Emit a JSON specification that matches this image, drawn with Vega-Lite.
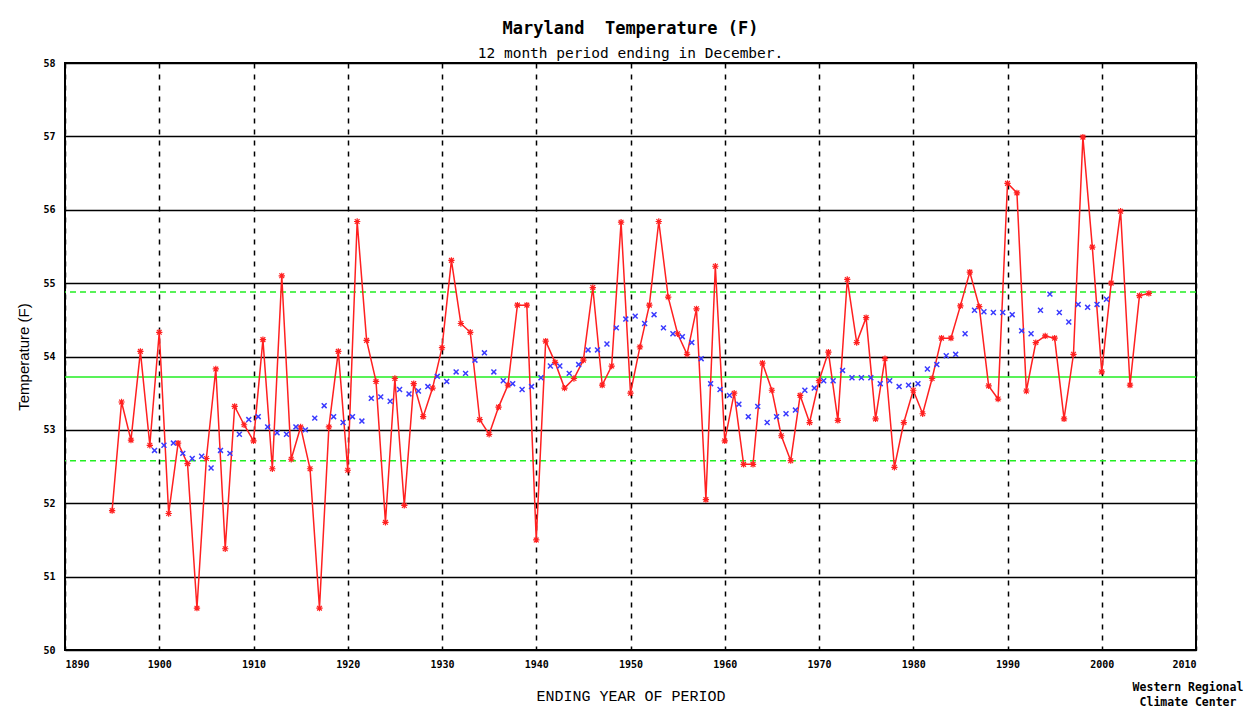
{
  "$schema": "https://vega.github.io/schema/vega-lite/v6.json",
  "autosize": {"type": "none"},
  "width": 1131,
  "height": 587,
  "padding": {"left": 65, "top": 63, "right": 56, "bottom": 58},
  "background": "#ffffff",
  "title": {
    "text": "Maryland\u00a0 Temperature (F)",
    "subtitle": "12 month period ending in December.",
    "anchor": "middle",
    "font": "DejaVu Sans Mono",
    "fontSize": 17,
    "fontWeight": "bold",
    "color": "#000000",
    "subtitleFont": "DejaVu Sans Mono",
    "subtitleFontSize": 14.5,
    "subtitleColor": "#000000",
    "subtitlePadding": 9,
    "offset": -3
  },
  "config": {
    "view": {"stroke": "#000000", "strokeWidth": 2},
    "axis": {
      "domain": false,
      "ticks": false,
      "labelFont": "DejaVu Sans Mono",
      "labelFontSize": 10,
      "labelFontWeight": "bold",
      "labelColor": "#000000",
      "gridColor": "#000000",
      "gridOpacity": 1
    }
  },
  "datasets": {
    "annual": [
      {"year": 1895, "temp": 51.90}, {"year": 1896, "temp": 53.38}, {"year": 1897, "temp": 52.86}, {"year": 1898, "temp": 54.07}, {"year": 1899, "temp": 52.79},
      {"year": 1900, "temp": 54.33}, {"year": 1901, "temp": 51.86}, {"year": 1902, "temp": 52.82}, {"year": 1903, "temp": 52.54}, {"year": 1904, "temp": 50.57},
      {"year": 1905, "temp": 52.61}, {"year": 1906, "temp": 53.83}, {"year": 1907, "temp": 51.38}, {"year": 1908, "temp": 53.32}, {"year": 1909, "temp": 53.07},
      {"year": 1910, "temp": 52.85}, {"year": 1911, "temp": 54.23}, {"year": 1912, "temp": 52.47}, {"year": 1913, "temp": 55.10}, {"year": 1914, "temp": 52.60},
      {"year": 1915, "temp": 53.04}, {"year": 1916, "temp": 52.47}, {"year": 1917, "temp": 50.57}, {"year": 1918, "temp": 53.04}, {"year": 1919, "temp": 54.07},
      {"year": 1920, "temp": 52.45}, {"year": 1921, "temp": 55.84}, {"year": 1922, "temp": 54.22}, {"year": 1923, "temp": 53.66}, {"year": 1924, "temp": 51.74},
      {"year": 1925, "temp": 53.70}, {"year": 1926, "temp": 51.97}, {"year": 1927, "temp": 53.63}, {"year": 1928, "temp": 53.18}, {"year": 1929, "temp": 53.57},
      {"year": 1930, "temp": 54.12}, {"year": 1931, "temp": 55.31}, {"year": 1932, "temp": 54.45}, {"year": 1933, "temp": 54.33}, {"year": 1934, "temp": 53.14},
      {"year": 1935, "temp": 52.94}, {"year": 1936, "temp": 53.31}, {"year": 1937, "temp": 53.61}, {"year": 1938, "temp": 54.70}, {"year": 1939, "temp": 54.70},
      {"year": 1940, "temp": 51.50}, {"year": 1941, "temp": 54.21}, {"year": 1942, "temp": 53.92}, {"year": 1943, "temp": 53.57}, {"year": 1944, "temp": 53.70},
      {"year": 1945, "temp": 53.95}, {"year": 1946, "temp": 54.94}, {"year": 1947, "temp": 53.61}, {"year": 1948, "temp": 53.87}, {"year": 1949, "temp": 55.83},
      {"year": 1950, "temp": 53.50}, {"year": 1951, "temp": 54.13}, {"year": 1952, "temp": 54.70}, {"year": 1953, "temp": 55.84}, {"year": 1954, "temp": 54.81},
      {"year": 1955, "temp": 54.31}, {"year": 1956, "temp": 54.03}, {"year": 1957, "temp": 54.65}, {"year": 1958, "temp": 52.05}, {"year": 1959, "temp": 55.23},
      {"year": 1960, "temp": 52.85}, {"year": 1961, "temp": 53.50}, {"year": 1962, "temp": 52.53}, {"year": 1963, "temp": 52.53}, {"year": 1964, "temp": 53.91},
      {"year": 1965, "temp": 53.54}, {"year": 1966, "temp": 52.92}, {"year": 1967, "temp": 52.58}, {"year": 1968, "temp": 53.47}, {"year": 1969, "temp": 53.10},
      {"year": 1970, "temp": 53.67}, {"year": 1971, "temp": 54.06}, {"year": 1972, "temp": 53.13}, {"year": 1973, "temp": 55.05}, {"year": 1974, "temp": 54.19},
      {"year": 1975, "temp": 54.53}, {"year": 1976, "temp": 53.15}, {"year": 1977, "temp": 53.97}, {"year": 1978, "temp": 52.49}, {"year": 1979, "temp": 53.10},
      {"year": 1980, "temp": 53.54}, {"year": 1981, "temp": 53.22}, {"year": 1982, "temp": 53.70}, {"year": 1983, "temp": 54.25}, {"year": 1984, "temp": 54.25},
      {"year": 1985, "temp": 54.69}, {"year": 1986, "temp": 55.15}, {"year": 1987, "temp": 54.68}, {"year": 1988, "temp": 53.60}, {"year": 1989, "temp": 53.42},
      {"year": 1990, "temp": 56.36}, {"year": 1991, "temp": 56.23}, {"year": 1992, "temp": 53.53}, {"year": 1993, "temp": 54.19}, {"year": 1994, "temp": 54.28},
      {"year": 1995, "temp": 54.25}, {"year": 1996, "temp": 53.15}, {"year": 1997, "temp": 54.03}, {"year": 1998, "temp": 56.99}, {"year": 1999, "temp": 55.49},
      {"year": 2000, "temp": 53.79}, {"year": 2001, "temp": 55.00}, {"year": 2002, "temp": 55.98}, {"year": 2003, "temp": 53.61}, {"year": 2004, "temp": 54.83},
      {"year": 2005, "temp": 54.86}
    ],
    "mean10": [
      {"year": 1899.5, "temp": 52.72}, {"year": 1900.5, "temp": 52.79}, {"year": 1901.5, "temp": 52.82}, {"year": 1902.5, "temp": 52.68}, {"year": 1903.5, "temp": 52.61},
      {"year": 1904.5, "temp": 52.64}, {"year": 1905.5, "temp": 52.48}, {"year": 1906.5, "temp": 52.72}, {"year": 1907.5, "temp": 52.68}, {"year": 1908.5, "temp": 52.94},
      {"year": 1909.5, "temp": 53.14}, {"year": 1910.5, "temp": 53.18}, {"year": 1911.5, "temp": 53.04}, {"year": 1912.5, "temp": 52.96}, {"year": 1913.5, "temp": 52.94},
      {"year": 1914.5, "temp": 53.04}, {"year": 1915.5, "temp": 53.00}, {"year": 1916.5, "temp": 53.16}, {"year": 1917.5, "temp": 53.33}, {"year": 1918.5, "temp": 53.18},
      {"year": 1919.5, "temp": 53.10}, {"year": 1920.5, "temp": 53.18}, {"year": 1921.5, "temp": 53.12}, {"year": 1922.5, "temp": 53.43}, {"year": 1923.5, "temp": 53.45},
      {"year": 1924.5, "temp": 53.39}, {"year": 1925.5, "temp": 53.55}, {"year": 1926.5, "temp": 53.49}, {"year": 1927.5, "temp": 53.53}, {"year": 1928.5, "temp": 53.59},
      {"year": 1929.5, "temp": 53.73}, {"year": 1930.5, "temp": 53.66}, {"year": 1931.5, "temp": 53.79}, {"year": 1932.5, "temp": 53.77}, {"year": 1933.5, "temp": 53.95},
      {"year": 1934.5, "temp": 54.05}, {"year": 1935.5, "temp": 53.79}, {"year": 1936.5, "temp": 53.67}, {"year": 1937.5, "temp": 53.63}, {"year": 1938.5, "temp": 53.55},
      {"year": 1939.5, "temp": 53.59}, {"year": 1940.5, "temp": 53.71}, {"year": 1941.5, "temp": 53.87}, {"year": 1942.5, "temp": 53.87}, {"year": 1943.5, "temp": 53.77},
      {"year": 1944.5, "temp": 53.89}, {"year": 1945.5, "temp": 54.09}, {"year": 1946.5, "temp": 54.09}, {"year": 1947.5, "temp": 54.17}, {"year": 1948.5, "temp": 54.39},
      {"year": 1949.5, "temp": 54.51}, {"year": 1950.5, "temp": 54.55}, {"year": 1951.5, "temp": 54.45}, {"year": 1952.5, "temp": 54.57}, {"year": 1953.5, "temp": 54.39},
      {"year": 1954.5, "temp": 54.31}, {"year": 1955.5, "temp": 54.27}, {"year": 1956.5, "temp": 54.19}, {"year": 1957.5, "temp": 53.97}, {"year": 1958.5, "temp": 53.63},
      {"year": 1959.5, "temp": 53.55}, {"year": 1960.5, "temp": 53.47}, {"year": 1961.5, "temp": 53.35}, {"year": 1962.5, "temp": 53.18}, {"year": 1963.5, "temp": 53.32},
      {"year": 1964.5, "temp": 53.10}, {"year": 1965.5, "temp": 53.18}, {"year": 1966.5, "temp": 53.22}, {"year": 1967.5, "temp": 53.27}, {"year": 1968.5, "temp": 53.54},
      {"year": 1969.5, "temp": 53.57}, {"year": 1970.5, "temp": 53.67}, {"year": 1971.5, "temp": 53.67}, {"year": 1972.5, "temp": 53.81}, {"year": 1973.5, "temp": 53.71},
      {"year": 1974.5, "temp": 53.71}, {"year": 1975.5, "temp": 53.71}, {"year": 1976.5, "temp": 53.63}, {"year": 1977.5, "temp": 53.67}, {"year": 1978.5, "temp": 53.59},
      {"year": 1979.5, "temp": 53.61}, {"year": 1980.5, "temp": 53.63}, {"year": 1981.5, "temp": 53.83}, {"year": 1982.5, "temp": 53.89}, {"year": 1983.5, "temp": 54.01},
      {"year": 1984.5, "temp": 54.03}, {"year": 1985.5, "temp": 54.31}, {"year": 1986.5, "temp": 54.63}, {"year": 1987.5, "temp": 54.61}, {"year": 1988.5, "temp": 54.60},
      {"year": 1989.5, "temp": 54.60}, {"year": 1990.5, "temp": 54.57}, {"year": 1991.5, "temp": 54.35}, {"year": 1992.5, "temp": 54.31}, {"year": 1993.5, "temp": 54.63},
      {"year": 1994.5, "temp": 54.85}, {"year": 1995.5, "temp": 54.60}, {"year": 1996.5, "temp": 54.47}, {"year": 1997.5, "temp": 54.71}, {"year": 1998.5, "temp": 54.67},
      {"year": 1999.5, "temp": 54.71}, {"year": 2000.5, "temp": 54.78}
    ],
    "stats": [
      {"stat": "mean", "temp": 53.72},
      {"stat": "mean + 1 sd", "temp": 54.88},
      {"stat": "mean - 1 sd", "temp": 52.58}
    ],
    "credit": [
      {"year": 2010, "temp": 50, "label": "Western Regional Climate Center"}
    ]
  },
  "layer": [
    {
      "data": {"name": "stats"},
      "transform": [{"filter": "datum.stat == 'mean'"}],
      "mark": {"type": "rule", "color": "#22ee22", "strokeWidth": 1.5},
      "encoding": {
        "y": {"field": "temp", "type": "quantitative", "scale": {"domain": [50, 58], "nice": false, "zero": false}}
      }
    },
    {
      "data": {"name": "stats"},
      "transform": [{"filter": "datum.stat != 'mean'"}],
      "mark": {"type": "rule", "color": "#22ee22", "strokeWidth": 1.5, "strokeDash": [6, 4]},
      "encoding": {
        "y": {"field": "temp", "type": "quantitative"}
      }
    },
    {
      "data": {"name": "annual"},
      "mark": {"type": "line", "color": "#ff2020", "strokeWidth": 1.5},
      "encoding": {
        "x": {
          "field": "year",
          "type": "quantitative",
          "scale": {"domain": [1890, 2010], "nice": false, "zero": false},
          "axis": {
            "values": [1890, 1900, 1910, 1920, 1930, 1940, 1950, 1960, 1970, 1980, 1990, 2000, 2010],
            "format": "d",
            "title": "ENDING YEAR OF PERIOD",
            "titleFont": "Liberation Mono",
            "titleFontSize": 15,
            "titleFontWeight": "normal",
            "titleColor": "#000000",
            "titlePadding": 19,
            "labelPadding": 9,
            "grid": true,
            "gridDash": [5, 6],
            "gridWidth": 1.5
          }
        },
        "y": {
          "field": "temp",
          "type": "quantitative",
          "axis": {
            "values": [50, 51, 52, 53, 54, 55, 56, 57, 58],
            "format": "d",
            "title": "Temperature (F)",
            "titleFont": "Liberation Sans",
            "titleFontSize": 15,
            "titleFontWeight": "normal",
            "titleColor": "#000000",
            "titlePadding": 11,
            "labelPadding": 10,
            "grid": true,
            "gridWidth": 1.5
          }
        }
      }
    },
    {
      "data": {"name": "annual"},
      "mark": {
        "type": "point",
        "shape": "M-1,0L1,0M0,-1L0,1M-0.75,-0.75L0.75,0.75M-0.75,0.75L0.75,-0.75",
        "filled": false,
        "stroke": "#ff2020",
        "strokeWidth": 1.2,
        "size": 40,
        "opacity": 1
      },
      "encoding": {
        "x": {"field": "year", "type": "quantitative"},
        "y": {"field": "temp", "type": "quantitative"}
      }
    },
    {
      "data": {"name": "mean10"},
      "mark": {
        "type": "point",
        "shape": "M-1,-1L1,1M-1,1L1,-1",
        "filled": false,
        "stroke": "#3a3aff",
        "strokeWidth": 1.5,
        "size": 24,
        "opacity": 1
      },
      "encoding": {
        "x": {"field": "year", "type": "quantitative"},
        "y": {"field": "temp", "type": "quantitative"}
      }
    },
    {
      "data": {"name": "credit"},
      "mark": {
        "type": "text",
        "font": "DejaVu Sans Mono",
        "fontSize": 11.5,
        "fontWeight": "bold",
        "align": "center",
        "baseline": "top",
        "lineHeight": 15,
        "dx": -8,
        "dy": 32,
        "color": "#000000",
        "clip": false
      },
      "encoding": {
        "x": {"field": "year", "type": "quantitative"},
        "y": {"field": "temp", "type": "quantitative"},
        "text": {"value": ["Western Regional", "Climate Center"]}
      }
    }
  ]
}
